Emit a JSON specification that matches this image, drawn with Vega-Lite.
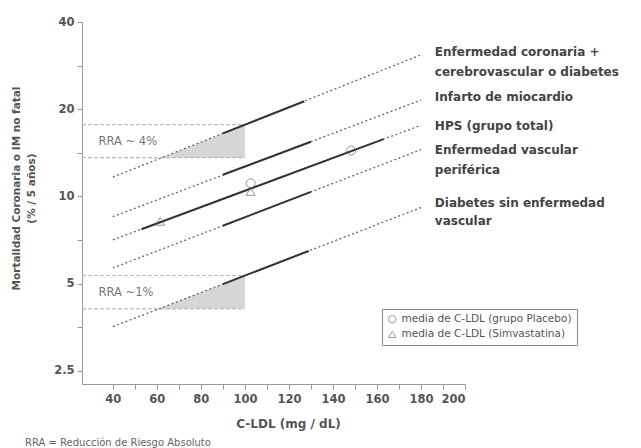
{
  "$schema": "https://vega.github.io/schema/vega-lite/v6.json",
  "width": 383,
  "height": 362,
  "autosize": {"type": "none"},
  "padding": {"left": 82, "top": 22, "right": 176, "bottom": 64},
  "background": "white",
  "config": {"view": {"stroke": null}, "font": "DejaVu Sans"},
  "title": {
    "text": "RRA = Reducción de Riesgo Absoluto",
    "orient": "bottom",
    "anchor": "start",
    "frame": "group",
    "dx": -57,
    "offset": 9,
    "fontSize": 10,
    "fontWeight": "normal",
    "color": "#666"
  },
  "datasets": {
    "dotted": [
      {"s": "L1", "x": 40, "y": 11.66}, {"s": "L1", "x": 180, "y": 30.8},
      {"s": "L2", "x": 40, "y": 8.51}, {"s": "L2", "x": 180, "y": 21.5},
      {"s": "L3", "x": 40, "y": 7.08}, {"s": "L3", "x": 180, "y": 17.6},
      {"s": "L4", "x": 40, "y": 5.66}, {"s": "L4", "x": 180, "y": 14.5},
      {"s": "L5", "x": 40, "y": 3.55}, {"s": "L5", "x": 180, "y": 9.15}
    ],
    "solid": [
      {"s": "L1", "x": 90, "y": 16.5}, {"s": "L1", "x": 127, "y": 21.3},
      {"s": "L2", "x": 90, "y": 11.87}, {"s": "L2", "x": 130, "y": 15.44},
      {"s": "L3", "x": 53, "y": 7.7}, {"s": "L3", "x": 163, "y": 15.76},
      {"s": "L4", "x": 90, "y": 7.92}, {"s": "L4", "x": 130, "y": 10.36},
      {"s": "L5", "x": 90, "y": 4.98}, {"s": "L5", "x": 129, "y": 6.48}
    ],
    "shade": [
      {"b": "up", "x": 62.2, "y": 13.6, "y2": 13.6}, {"b": "up", "x": 100, "y": 17.68, "y2": 13.6},
      {"b": "lo", "x": 60.9, "y": 4.09, "y2": 4.09}, {"b": "lo", "x": 100, "y": 5.33, "y2": 4.09}
    ],
    "rra": [
      {"x": 26, "x2": 100, "y": 17.68},
      {"x": 26, "x2": 100, "y": 13.6},
      {"x": 26, "x2": 100, "y": 5.33},
      {"x": 26, "x2": 100, "y": 4.09}
    ],
    "pts": [
      {"g": "media de C-LDL (grupo Placebo)", "x": 102.6, "y": 11.1},
      {"g": "media de C-LDL (grupo Placebo)", "x": 148.3, "y": 14.4},
      {"g": "media de C-LDL (Simvastatina)", "x": 61.5, "y": 8.2},
      {"g": "media de C-LDL (Simvastatina)", "x": 102.6, "y": 10.4}
    ],
    "lbl": [
      {"t": "Enfermedad coronaria +", "x": 186.3, "y": 31.5},
      {"t": "cerebrovascular o diabetes", "x": 186.3, "y": 26.9},
      {"t": "Infarto de miocardio", "x": 186.3, "y": 22.0},
      {"t": "HPS (grupo total)", "x": 186.3, "y": 17.5},
      {"t": "Enfermedad vascular", "x": 186.3, "y": 14.5},
      {"t": "periférica", "x": 186.3, "y": 12.3},
      {"t": "Diabetes sin enfermedad", "x": 186.3, "y": 9.5},
      {"t": "vascular", "x": 186.3, "y": 8.2}
    ],
    "rratext": [
      {"t": "RRA ~ 4%", "x": 33.5, "y": 15.4},
      {"t": "RRA ~1%", "x": 33.5, "y": 4.64}
    ]
  },
  "encoding": {
    "x": {
      "field": "x", "type": "quantitative",
      "scale": {"domain": [26, 200], "nice": false, "zero": false},
      "axis": {
        "values": [40, 50, 60, 70, 80, 90, 100, 110, 120, 130, 140, 150, 160, 170, 180, 190, 200],
        "labelExpr": "datum.value % 20 == 0 ? datum.label : ''",
        "grid": false,
        "domainColor": "#999",
        "tickColor": "#999",
        "tickSize": 5,
        "labelColor": "#555",
        "labelFontSize": 11.5,
        "labelFontWeight": "bold",
        "labelPadding": 4,
        "title": "C-LDL (mg / dL)",
        "titleFontSize": 12,
        "titleFontWeight": "bold",
        "titleColor": "#555",
        "titleX": 206,
        "titleY": 43,
        "titleAlign": "center",
        "titleBaseline": "alphabetic"
      }
    },
    "y": {
      "field": "y", "type": "quantitative",
      "scale": {"type": "log", "domain": [2.25, 40], "nice": false},
      "axis": {
        "values": [2.5, 3.5355, 5, 7.0711, 10, 14.142, 20, 28.284, 40],
        "labelExpr": "indexof([2.5, 5, 10, 20, 40], datum.value) >= 0 ? format(datum.value, '~g') : ''",
        "grid": false,
        "domainColor": "#999",
        "tickColor": "#999",
        "tickSize": 5,
        "labelColor": "#555",
        "labelFontSize": 11.5,
        "labelFontWeight": "bold",
        "labelPadding": 3,
        "title": ["Mortalidad Coronaria o IM no fatal", "(% / 5 años)"],
        "titleFontSize": 10.5,
        "titleFontWeight": "bold",
        "titleColor": "#555",
        "titleLineHeight": 15,
        "titleX": -71,
        "titleY": 166,
        "titleAngle": -90,
        "titleAlign": "center",
        "titleBaseline": "top"
      }
    }
  },
  "layer": [
    {
      "data": {"name": "shade"},
      "mark": {"type": "area", "color": "#d2d2d2", "opacity": 0.9},
      "encoding": {"y2": {"field": "y2"}, "detail": {"field": "b"}}
    },
    {
      "data": {"name": "rra"},
      "mark": {"type": "rule", "color": "#bbb", "strokeDash": [4, 2], "strokeWidth": 1.2},
      "encoding": {"x2": {"field": "x2"}}
    },
    {
      "data": {"name": "dotted"},
      "mark": {"type": "line", "color": "#666", "strokeWidth": 1.3, "strokeDash": [2, 2.5]},
      "encoding": {"detail": {"field": "s"}}
    },
    {
      "data": {"name": "solid"},
      "mark": {"type": "line", "color": "#333", "strokeWidth": 2},
      "encoding": {"detail": {"field": "s"}}
    },
    {
      "data": {"name": "pts"},
      "mark": {"type": "point", "filled": false, "size": 80, "color": "#666", "strokeWidth": 1},
      "encoding": {
        "shape": {
          "field": "g", "type": "nominal",
          "scale": {"domain": ["media de C-LDL (grupo Placebo)", "media de C-LDL (Simvastatina)"], "range": ["circle", "triangle-up"]},
          "legend": {
            "title": null,
            "orient": "none",
            "legendX": 300,
            "legendY": 287,
            "strokeColor": "#888",
            "padding": 5,
            "labelFontSize": 10.5,
            "labelColor": "#555",
            "labelFont": "DejaVu Sans",
            "labelLimit": 300,
            "symbolSize": 55,
            "symbolStrokeColor": "#777",
            "symbolFillColor": "white",
            "symbolStrokeWidth": 1,
            "rowPadding": 4
          }
        }
      }
    },
    {
      "data": {"name": "lbl"},
      "mark": {"type": "text", "align": "left", "baseline": "middle", "fontSize": 12, "fontWeight": "bold", "color": "#444"},
      "encoding": {"text": {"field": "t"}}
    },
    {
      "data": {"name": "rratext"},
      "mark": {"type": "text", "align": "left", "baseline": "middle", "fontSize": 11.5, "color": "#777"},
      "encoding": {"text": {"field": "t"}}
    }
  ]
}
